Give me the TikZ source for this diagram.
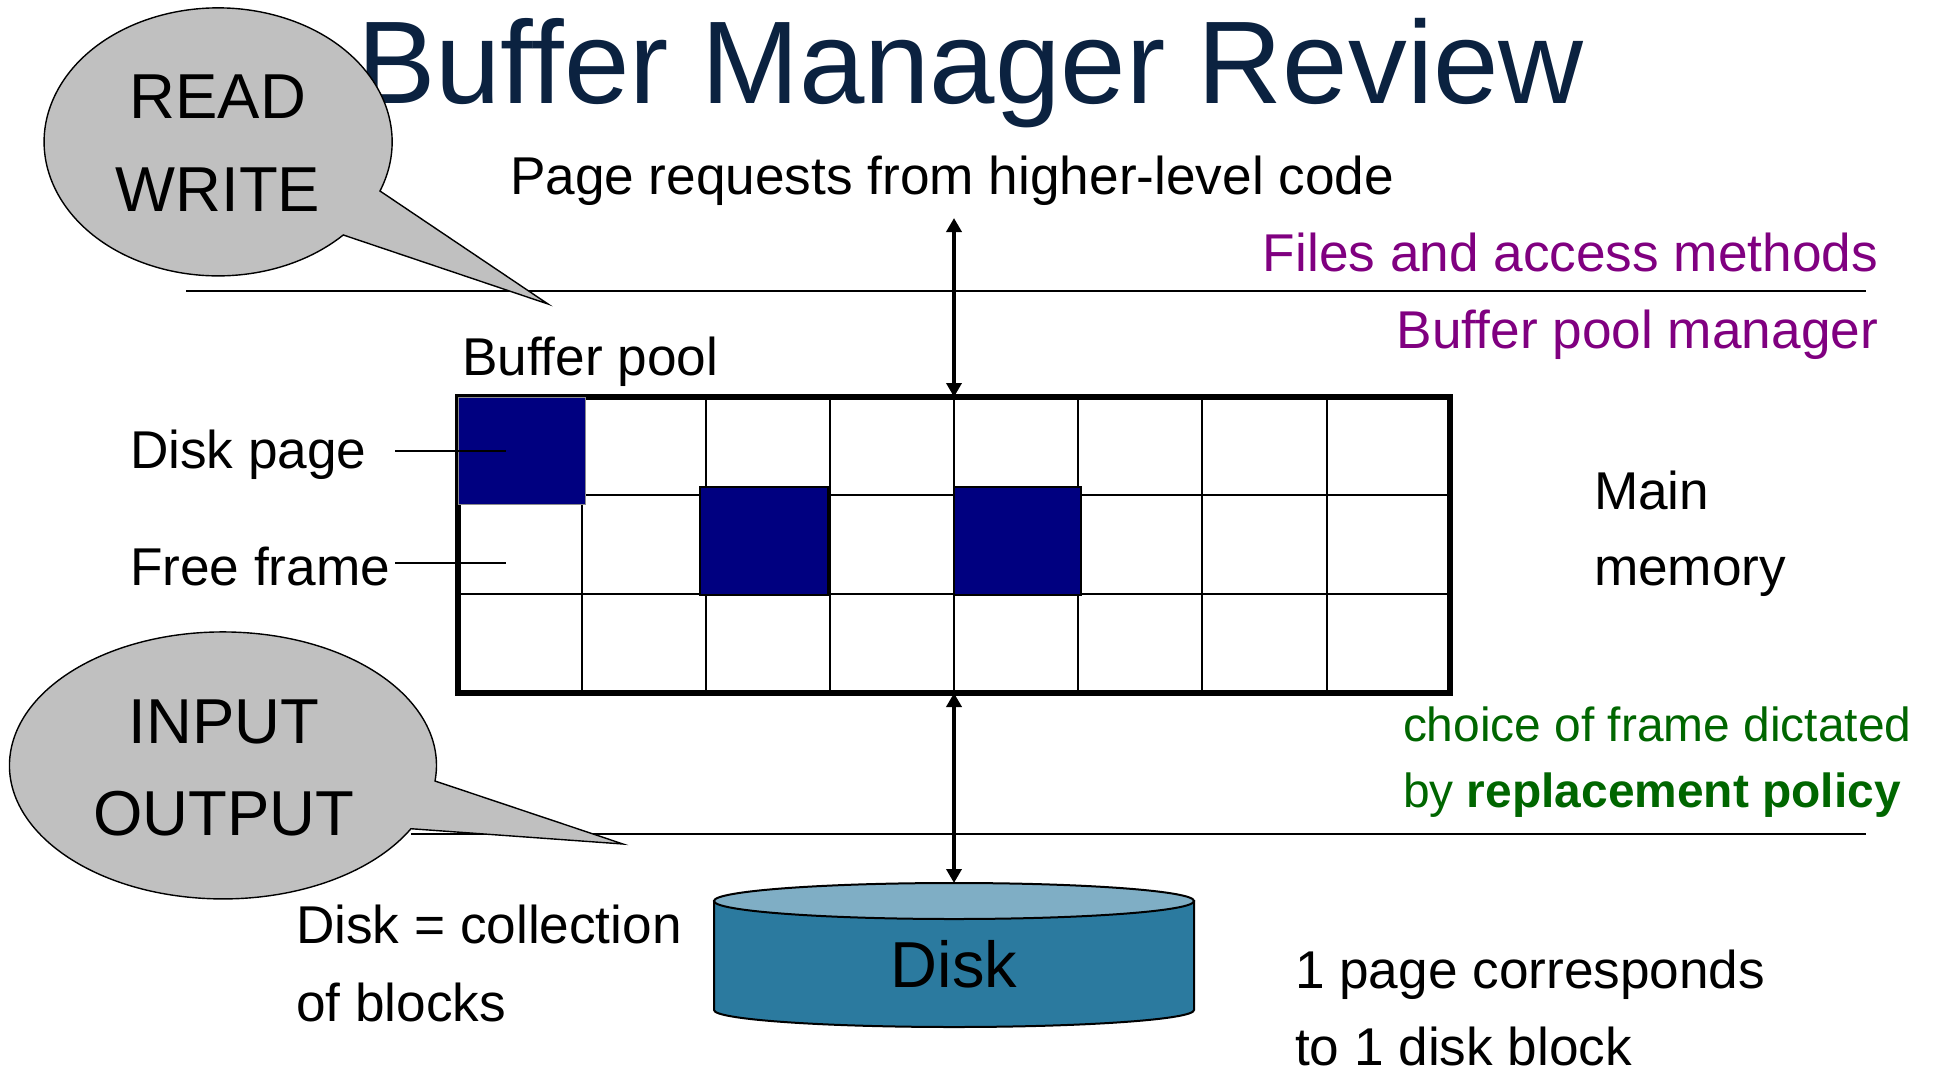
\documentclass[tikz,border=0pt]{standalone}
\usepackage{fontspec}
\setmainfont{Liberation Sans}
\usetikzlibrary{arrows.meta}
\definecolor{titlecol}{HTML}{0B2240}
\definecolor{bubblecol}{HTML}{C0C0C0}
\definecolor{navyblk}{HTML}{000080}
\definecolor{purp}{HTML}{800080}
\definecolor{grn}{HTML}{006600}
\definecolor{disktop}{HTML}{7FAEC5}
\definecolor{diskbody}{HTML}{2B7A9F}
\tikzset{
  txt/.style={inner sep=0pt,outer sep=0pt,anchor=base west},
  txtc/.style={inner sep=0pt,outer sep=0pt,anchor=base},
  txtr/.style={inner sep=0pt,outer sep=0pt,anchor=base east},
  fs/.style={font=\fontsize{#1}{#1}\selectfont},
  bubble/.style={draw=black,fill=bubblecol,line width=1.4pt,line join=miter},
  gridline/.style={draw=black,line width=1.8pt},
  rule/.style={draw=black,line width=1.5pt},
  leader/.style={draw=black,line width=1.5pt},
  twoway/.style={draw=black,line width=4.5pt,{Triangle[length=14pt,width=15pt]}-{Triangle[length=14pt,width=15pt]}},
  page/.style={fill=navyblk,inner sep=0pt,outer sep=0pt,anchor=north west},
}
\begin{document}
\begin{tikzpicture}[x=1pt,y=1pt]
\useasboundingbox[fill=white] (0,0) rectangle (1933,-1069);
% coordinates
\coordinate (reqend) at (954,-218);
\coordinate (pooltop) at (954,-397);
\coordinate (poolbot) at (954,-693);
\coordinate (disktopc) at (954,-883);
\coordinate (r1a) at (186,-291); \coordinate (r1b) at (1866,-291);
\coordinate (r2a) at (411,-834); \coordinate (r2b) at (1866,-834);
\coordinate (dpa) at (395,-451); \coordinate (dpb) at (506,-451);
\coordinate (ffa) at (395,-563); \coordinate (ffb) at (506,-563);
% title
\node[txt,fs=117.6,text=titlecol] (title) at (357,-103) {Buffer Manager Review};
% rules
\draw[rule] (r1a) -- (r1b);
\draw[rule] (r2a) -- (r2b);
% buffer pool grid
\foreach \x in {582,706,830,954,1078,1202,1327}
  \draw[gridline] (\x,-397) -- (\x,-693);
\foreach \y in {495,594}
  \draw[gridline] (458,-\y) -- (1450,-\y);
\node[draw=black,line width=5.5pt,outer sep=0pt,minimum width=992pt,minimum height=296pt,inner sep=0pt,anchor=north west] (pool) at (458,-397) {};
% pages
\node[page,minimum width=127pt,minimum height=107pt,draw=black!45,line width=1pt] (p1) at (458,-397) {};
\node[page,minimum width=128pt,minimum height=108pt,draw=black,line width=1.5pt] (p2) at (700,-487) {};
\node[page,minimum width=127pt,minimum height=108pt,draw=black,line width=1.5pt] (p3) at (954,-487) {};
% leaders
\draw[leader] (dpa) -- (dpb);
\draw[leader] (ffa) -- (ffb);
% disk
\path[draw=black,line width=2pt,fill=diskbody] (714,-901) -- (714,-1010) arc[start angle=180,end angle=360,x radius=240pt,y radius=17pt] -- (1194,-901) -- cycle;
\path[draw=black,line width=2pt,fill=disktop] (954,-901) ellipse[x radius=240pt,y radius=18pt];
\node[txtc,fs=65] (disk) at (954,-987) {Disk};
% arrows
\draw[twoway] (reqend) -- (pooltop);
\draw[twoway] (poolbot) -- (disktopc);
% bubbles
\draw[bubble] (548,-304) -- (380,-191) arc[start angle=-21.5,end angle=316,x radius=174pt,y radius=134pt] -- cycle;
\draw[bubble] (623,-844) -- (435,-781) arc[start angle=-6.7,end angle=331.7,x radius=213.5pt,y radius=133.5pt] -- cycle;
\node[txtc,fs=63.5] (read) at (218,-118) {READ};
\node[txtc,fs=63.5] (write) at (218,-211) {WRITE};
\node[txtc,fs=63.5] (input) at (224,-743) {INPUT};
\node[txtc,fs=63.5] (output) at (224,-835) {OUTPUT};
% labels
\node[txt,fs=53.2] (req) at (510,-194) {Page requests from higher-level code};
\node[txtr,fs=53.2,text=purp] (files) at (1878,-271) {Files and access methods};
\node[txtr,fs=53.2,text=purp] (bpm) at (1878,-348) {Buffer pool manager};
\node[txt,fs=53.2] (bp) at (462,-375) {Buffer pool};
\node[txt,fs=53.2] (dp) at (130,-468) {Disk page};
\node[txt,fs=53.2] (ff) at (130,-585) {Free frame};
\node[txt,fs=53.2] (main) at (1594,-509) {Main};
\node[txt,fs=53.2] (mem) at (1594,-585) {memory};
\node[txt,fs=47.9,text=grn] (choice) at (1403,-741) {choice of frame dictated};
\node[txt,fs=47.9,text=grn] (policy) at (1403,-807) {by \textbf{replacement policy}};
\node[txt,fs=53.2] (dc) at (296,-943) {Disk = collection};
\node[txt,fs=53.2] (db) at (296,-1021) {of blocks};
\node[txt,fs=53.2] (pc) at (1295,-988) {1 page corresponds};
\node[txt,fs=53.2] (dbk) at (1295,-1065) {to 1 disk block};
\end{tikzpicture}
\end{document}
